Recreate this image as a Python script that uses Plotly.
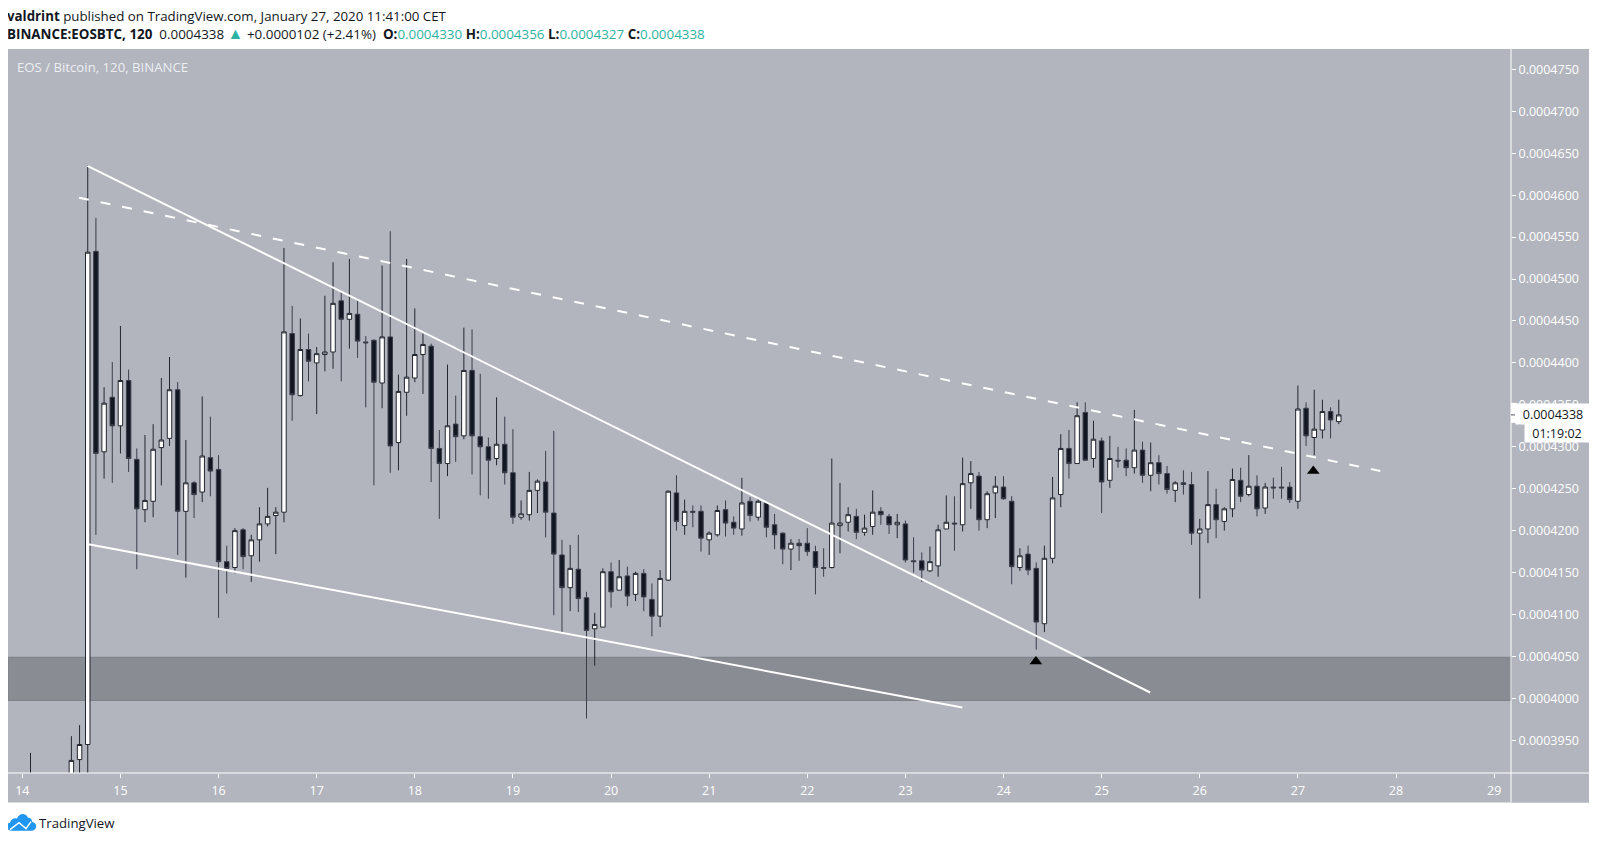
import plotly.graph_objects as go

# prices in units of 0.0000001 BTC, 2h candles, index counted from the 14th
PRICE_UNIT = 1e-7
candle_index = [1] + list(range(6, 162))

opens = [3900, 3900, 3927, 3945, 4533,
         4294, 4359, 4325, 4379, 4285, 4225, 4235, 4299, 4310, 4368,
         4223, 4257, 4246, 4287, 4273, 4163, 4156, 4201, 4170, 4189,
         4208, 4218, 4222, 4435, 4361, 4416, 4400, 4410, 4413, 4474,
         4452, 4458, 4425, 4427, 4376, 4431, 4305, 4365, 4382, 4410,
         4420, 4298, 4280, 4327, 4313, 4391, 4312, 4300, 4286, 4303,
         4269, 4216, 4219, 4248, 4258, 4221, 4171, 4132, 4154, 4120,
         4083, 4085, 4151, 4129, 4146, 4124, 4149, 4118, 4098, 4141,
         4245, 4206, 4223, 4223, 4189, 4195, 4225, 4210, 4202, 4235,
         4216, 4233, 4207, 4197, 4178, 4185, 4185, 4175, 4156, 4156,
         4206, 4210, 4217, 4198, 4205, 4223, 4217, 4207, 4208, 4164,
         4164, 4152, 4158, 4202, 4209, 4207, 4257, 4265, 4213, 4245,
         4252, 4235, 4156, 4172, 4155, 4089, 4167, 4243, 4298, 4280,
         4341, 4286, 4307, 4260, 4284, 4284, 4275, 4296, 4266, 4281,
         4268, 4248, 4257, 4255, 4197, 4202, 4231, 4211, 4226, 4260,
         4243, 4253, 4227, 4252, 4252, 4252, 4235, 4346, 4311, 4320, 4342, 4330]
highs = [3935, 3955, 3968, 4636, 4573,
         4371, 4401, 4444, 4392, 4298, 4314, 4327, 4382, 4407, 4377,
         4308, 4259, 4360, 4336, 4290, 4182, 4203, 4203, 4195, 4228,
         4251, 4228, 4537, 4468, 4453, 4435, 4419, 4480, 4520, 4484,
         4524, 4474, 4432, 4428, 4516, 4557, 4386, 4524, 4465, 4435,
         4423, 4320, 4398, 4361, 4442, 4440, 4387, 4311, 4359, 4336,
         4321, 4236, 4270, 4261, 4295, 4319, 4189, 4183, 4195, 4127,
         4102, 4155, 4162, 4165, 4157, 4151, 4154, 4137, 4153, 4248,
         4266, 4237, 4230, 4230, 4199, 4230, 4236, 4217, 4263, 4240,
         4238, 4234, 4220, 4198, 4190, 4190, 4203, 4182, 4179, 4286,
         4257, 4228, 4226, 4219, 4248, 4228, 4220, 4220, 4212, 4192,
         4174, 4181, 4207, 4242, 4241, 4287, 4283, 4270, 4247, 4265,
         4265, 4241, 4179, 4182, 4162, 4182, 4264, 4315, 4320, 4353,
         4353, 4331, 4311, 4313, 4300, 4298, 4344, 4306, 4305, 4290,
         4277, 4259, 4272, 4270, 4214, 4271, 4250, 4228, 4274, 4275,
         4290, 4266, 4257, 4263, 4276, 4258, 4373, 4353, 4368, 4356, 4347, 4356]
lows = [3890, 3890, 3905, 3900, 4195,
        4262, 4257, 4292, 4270, 4154, 4210, 4216, 4254, 4301, 4171,
        4144, 4215, 4234, 4241, 4096, 4125, 4149, 4154, 4139, 4163,
        4205, 4172, 4210, 4331, 4360, 4378, 4339, 4390, 4393, 4378,
        4417, 4406, 4347, 4254, 4346, 4269, 4272, 4337, 4377, 4363,
        4258, 4214, 4265, 4282, 4309, 4267, 4242, 4238, 4278, 4255,
        4208, 4213, 4212, 4221, 4192, 4099, 4079, 4104, 4103, 3976,
        4039, 4085, 4108, 4129, 4110, 4116, 4104, 4074, 4085, 4140,
        4200, 4195, 4204, 4175, 4171, 4193, 4193, 4195, 4194, 4211,
        4212, 4192, 4178, 4160, 4153, 4164, 4170, 4124, 4145, 4155,
        4173, 4199, 4190, 4194, 4195, 4207, 4196, 4191, 4162, 4150,
        4139, 4151, 4145, 4202, 4176, 4199, 4226, 4200, 4203, 4215,
        4237, 4136, 4152, 4147, 4058, 4079, 4161, 4228, 4262, 4280,
        4284, 4275, 4221, 4251, 4275, 4265, 4268, 4257, 4247, 4255,
        4244, 4234, 4243, 4183, 4119, 4185, 4191, 4200, 4216, 4234,
        4241, 4217, 4220, 4238, 4238, 4233, 4226, 4301, 4290, 4310, 4310, 4327]
closes = [3905, 3926, 3945, 4532, 4292,
          4352, 4325, 4379, 4286, 4226, 4236, 4297, 4308, 4368, 4223,
          4257, 4243, 4289, 4271, 4163, 4155, 4200, 4169, 4189, 4208,
          4217, 4222, 4437, 4362, 4416, 4402, 4411, 4413, 4471, 4452,
          4459, 4426, 4424, 4377, 4431, 4301, 4366, 4383, 4410, 4422,
          4298, 4280, 4325, 4312, 4391, 4313, 4300, 4284, 4303, 4269,
          4216, 4220, 4248, 4259, 4222, 4172, 4132, 4155, 4119, 4081,
          4088, 4151, 4127, 4145, 4122, 4149, 4121, 4098, 4143, 4247,
          4211, 4223, 4222, 4191, 4197, 4224, 4209, 4203, 4233, 4218,
          4235, 4204, 4195, 4178, 4185, 4182, 4175, 4156, 4155, 4209,
          4209, 4219, 4198, 4203, 4222, 4219, 4207, 4210, 4165, 4163,
          4153, 4163, 4201, 4210, 4208, 4256, 4268, 4213, 4244, 4253,
          4238, 4157, 4170, 4153, 4091, 4167, 4239, 4298, 4280, 4337,
          4284, 4309, 4258, 4286, 4283, 4275, 4296, 4266, 4281, 4268,
          4249, 4257, 4255, 4197, 4202, 4231, 4213, 4226, 4261, 4241,
          4253, 4226, 4252, 4251, 4251, 4237, 4345, 4313, 4321, 4342, 4332, 4338]

day_ticks = list(range(14, 30))
price_ticks = list(range(3950, 4751, 50))
last_price = 4338

# drawn trend lines: (day, price)
upper_line_x, upper_line_y = [14.663, 25.495], [4635, 4007]
lower_line_x, lower_line_y = [14.66, 23.58], [4184, 3989]
dashed_line_x, dashed_line_y = [14.578, 27.84], [4597, 4271]
support_low, support_high = 3997.5, 4049
arrow_x, arrow_y = [24.33, 27.157], [4044, 4271]

# the page keeps its 8px body margin, so the figure starts at (8, 8) of the window
PAGE = 8
W, H = 1597, 844
LEFT, RIGHT, TOP, BOTTOM = 8, 1510.7, 49, 773.3
PANE = "#b2b5be"
INK = "#131722"
TEAL = "#2db3a3"
FONT = "Open Sans"


def fx(px):
    return (px - LEFT) / (RIGHT - LEFT)


def fy(py):
    return (BOTTOM - py) / (BOTTOM - TOP)


def price(values):
    return [v * PRICE_UNIT for v in values]


def logo_path(points):
    # points are window pixels, C takes three of them
    out = ""
    for cmd, pts in points:
        out += cmd + " ".join(f"{fx(x):.5f},{fy(y):.5f}" for x, y in pts)
    return out + "Z"


fig = go.Figure()

fig.add_trace(go.Candlestick(
    x=[14 + k / 12 for k in candle_index],
    open=price(opens), high=price(highs), low=price(lows), close=price(closes),
    increasing=dict(fillcolor="white", line=dict(color="#22262f", width=1)),
    decreasing=dict(fillcolor=INK, line=dict(color="#3a3e4a", width=1)),
    whiskerwidth=0, hoverinfo="skip", showlegend=False,
))

for xs, ys, dash in [(upper_line_x, upper_line_y, "solid"),
                     (lower_line_x, lower_line_y, "solid"),
                     (dashed_line_x, dashed_line_y, "10px,12px")]:
    fig.add_trace(go.Scatter(x=xs, y=price(ys), mode="lines", showlegend=False, hoverinfo="skip",
                             line=dict(color="white", width=2, dash=dash)))

fig.add_trace(go.Scatter(x=arrow_x, y=price(arrow_y), mode="markers", showlegend=False, hoverinfo="skip",
                         marker=dict(symbol="triangle-up", size=11, color="black")))

cloud = logo_path([
    ("M", [(11, 831)]),
    ("C", [(6, 831), (5, 824), (10, 823)]),
    ("C", [(11, 819), (15, 818), (17, 819)]),
    ("C", [(19, 813), (26, 813), (28, 818)]),
    ("C", [(31, 818), (32, 820), (32, 822)]),
    ("C", [(38, 823), (37, 831), (32, 831)]),
])

# axis strips, support zone, logo
shapes = [
    dict(type="rect", xref="paper", yref="paper", x0=fx(RIGHT), x1=fx(1589), y0=fy(802.7), y1=1,
         fillcolor=PANE, line_width=0, layer="below"),
    dict(type="rect", xref="paper", yref="paper", x0=0, x1=fx(1589), y0=fy(802.7), y1=0,
         fillcolor=PANE, line_width=0, layer="below"),
    dict(type="rect", xref="paper", yref="y", x0=0, x1=1,
         y0=support_low * PRICE_UNIT, y1=support_high * PRICE_UNIT,
         fillcolor="#8a8c94", line=dict(color="#7e8087", width=1), layer="below"),
    dict(type="line", xref="paper", yref="paper", x0=fx(RIGHT), x1=fx(RIGHT), y0=fy(802.7), y1=1,
         line=dict(color="white", width=1)),
    dict(type="line", xref="paper", yref="paper", x0=0, x1=fx(1589), y0=0, y1=0,
         line=dict(color="white", width=1)),
    dict(type="path", xref="paper", yref="paper", path=cloud, fillcolor="#2196f3", line_width=0),
    dict(type="path", xref="paper", yref="paper",
         path=f"M{fx(10)},{fy(830)} L{fx(19)},{fy(823)} L{fx(26)},{fy(829)} L{fx(31)},{fy(822)}",
         line=dict(color="white", width=1.5)),
    # start of the last price box, with its tick
    dict(type="rect", xref="paper", yref="paper", x0=fx(RIGHT), x1=fx(RIGHT + 6), y0=fy(423), y1=fy(403),
         fillcolor="white", line_width=0),
    dict(type="line", xref="paper", yref="y", x0=fx(RIGHT), x1=fx(RIGHT + 4),
         y0=last_price * PRICE_UNIT, y1=last_price * PRICE_UNIT, line=dict(color="#50535e", width=1)),
]

annotations = [
    dict(text="<b>valdrint</b> published on TradingView.com, January 27, 2020 11:41:00 CET",
         x=fx(5), y=fy(16), font=dict(size=13.3, color=INK)),
    dict(text=f"<b>BINANCE:EOSBTC, 120</b>  0.0004338 <span style='color:{TEAL};font-size:16px'>▲</span> +0.0000102 (+2.41%)  "
              f"<b>O:</b><span style='color:{TEAL}'>0.0004330</span> <b>H:</b><span style='color:{TEAL}'>0.0004356</span> "
              f"<b>L:</b><span style='color:{TEAL}'>0.0004327</span> <b>C:</b><span style='color:{TEAL}'>0.0004338</span>",
         x=fx(5), y=fy(33), font=dict(size=13.4, color=INK)),
    dict(text="EOS / Bitcoin, 120, BINANCE", x=fx(15), y=fy(67), font=dict(size=13.2, color="#eceef2")),
    dict(text="TradingView", x=fx(37), y=fy(823), font=dict(size=13.2, color=INK)),
]
for a in annotations:
    a.update(xref="paper", yref="paper", xanchor="left", yanchor="middle", showarrow=False)

annotations += [
    dict(text="0.0004338", x=fx(RIGHT + 4), y=fy(403), width=74, height=20, bgcolor="white", align="center",
         xref="paper", yref="paper", xanchor="left", yanchor="top", showarrow=False, borderpad=0,
         font=dict(size=12.5, color=INK, family=FONT)),
    dict(text="01:19:02", x=fx(1524), y=fy(423), width=64, height=18, bgcolor="white", align="center",
         xref="paper", yref="paper", xanchor="left", yanchor="top", showarrow=False, borderpad=0,
         font=dict(size=12.5, color=INK, family=FONT)),
]

fig.update_layout(
    width=W - PAGE, height=H - PAGE,
    margin=dict(l=LEFT - PAGE, r=W - RIGHT, t=TOP - PAGE, b=H - BOTTOM, autoexpand=False),
    paper_bgcolor="white", plot_bgcolor=PANE, boxgap=0.22,
    font=dict(family=FONT, color="white", size=12),
    showlegend=False, shapes=shapes, annotations=annotations,
    xaxis=dict(range=[13.854, 29.172], tickvals=day_ticks, ticktext=[str(d) for d in day_ticks],
               showgrid=False, zeroline=False, ticks="outside", ticklen=4, tickcolor="white",
               ticklabelstandoff=2, tickfont=dict(size=12.5, color="white"),
               rangeslider=dict(visible=False)),
    yaxis=dict(range=[3911 * PRICE_UNIT, 4774.3 * PRICE_UNIT], side="right", tickvals=price(price_ticks),
               tickformat=".7f", showgrid=False, zeroline=False, ticks="outside", ticklen=4,
               tickcolor="white", tickfont=dict(size=12.5, color="white")),
)

fig.write_html("out.html")
